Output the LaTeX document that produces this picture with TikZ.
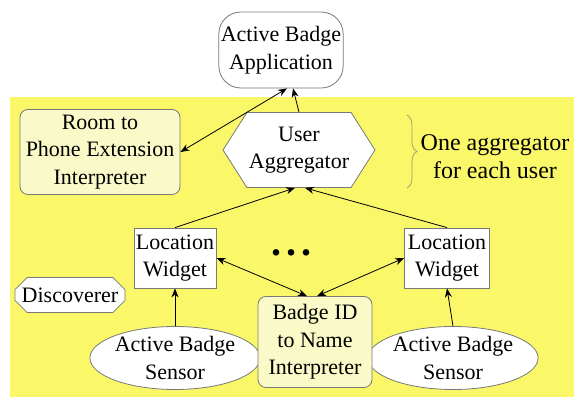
\documentclass[tikz,border=0pt]{standalone}
\usepackage{fontspec}
\setmainfont{Liberation Serif}
\usetikzlibrary{shapes.geometric, shapes.symbols, shapes.misc, arrows.meta, decorations.pathreplacing}
\definecolor{bgyellow}{RGB}{250,247,105}
\definecolor{paleyellow}{RGB}{250,250,200}
\definecolor{edgegray}{RGB}{120,120,120}

\begin{document}
\begin{tikzpicture}[x=0.5pt, y=-0.5pt,
    every node/.style={font=\rmfamily\fontsize{11}{13.8}\selectfont, align=center, inner sep=1pt},
    comp/.style={draw=edgegray, fill=white},
    interp/.style={comp, fill=paleyellow, rounded corners=4pt},
    link/.style={-{Stealth[length=4.5pt,width=3.5pt]}, thin},
    twoway/.style={{Stealth[length=4.5pt,width=3.5pt]}-{Stealth[length=4.5pt,width=3.5pt]}, thin}]
    \useasboundingbox (0,0) rectangle (574,405);

    % Yellow area of the toolkit
    \fill[bgyellow] (10,97) rectangle (574,397);

    % Application and aggregation layer
    \node[comp, rounded corners=11pt, minimum width=61pt, minimum height=38pt] (App) at (281,50) {Active Badge\\Application};
    \node[interp, minimum width=80pt, minimum height=42.5pt] (Room) at (100,152) {Room to\\Phone Extension\\Interpreter};
    \node[comp, signal, signal to=east and west, signal pointer angle=115, minimum width=73pt, minimum height=37.5pt] (Agg) at (299,150) {User\\Aggregator};
    \node[font=\rmfamily\fontsize{12}{14}\selectfont] (Note) at (495,157) {One aggregator\\for each user};
    \draw[edgegray!70!bgyellow, decorate, decoration={brace, amplitude=5pt}] (407,115) -- (407,188);

    % Widgets, sensors and the rest
    \node[comp, minimum width=38pt, minimum height=30pt] (Widget1) at (175,258) {Location\\Widget};
    \node[comp, minimum width=42.5pt, minimum height=30pt] (Widget2) at (447,258) {Location\\Widget};
    \node (Dots) at (291,253) {\fontsize{20}{20}\selectfont\textbf{.\hspace{2.5pt}.\hspace{2.5pt}.}};
    \node[comp, chamfered rectangle, chamfered rectangle xsep=3pt, inner xsep=0pt, minimum width=55pt, minimum height=17.5pt] (Disc) at (70,295) {Discoverer};
    \node[comp, ellipse, inner sep=0pt, minimum width=77.5pt, minimum height=31.5pt] (Sensor1) at (175,358) {Active Badge\\Sensor};
    \node[comp, ellipse, inner sep=0pt, minimum width=75pt, minimum height=31.5pt] (Sensor2) at (453,358) {Active Badge\\Sensor};
    \node[interp, minimum width=57pt, minimum height=45.5pt] (BadgeID) at (315,342) {Badge ID\\to Name\\Interpreter};

    % Connections
    \draw[twoway] (Room.east) -- ([xshift=3pt]App.south);
    \draw[link] (Agg.north) -- ([xshift=6pt]App.south);
    \draw[link] (Widget1.north) -- ([xshift=-2pt]Agg.south);
    \draw[link] (Widget2.north) -- ([xshift=3pt]Agg.south);
    \foreach \i in {1, 2}
        \draw[link] (Sensor\i.north) -- (Widget\i.south);
    \draw[twoway] (Widget1.east) -- ([xshift=-4pt]BadgeID.north);
    \draw[twoway] (Widget2.west) -- ([xshift=1pt]BadgeID.north);
\end{tikzpicture}
\end{document}
